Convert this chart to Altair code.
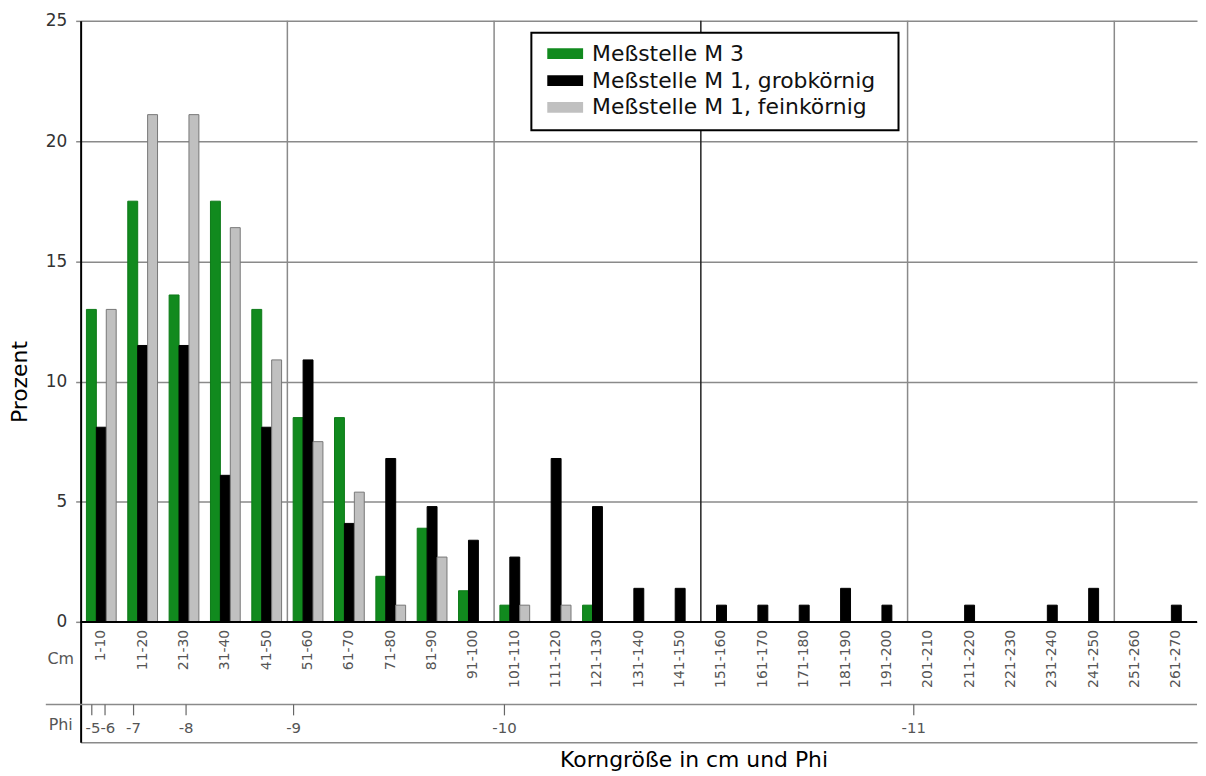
import altair as alt
import pandas as pd

# ---------------- data ----------------
cats = ["1-10", "11-20", "21-30", "31-40", "41-50", "51-60", "61-70", "71-80", "81-90",
        "91-100", "101-110", "111-120", "121-130", "131-140", "141-150", "151-160",
        "161-170", "171-180", "181-190", "191-200", "201-210", "211-220", "221-230",
        "231-240", "241-250", "251-260", "261-270"]

series_names = ["Meßstelle M 3", "Meßstelle M 1, grobkörnig", "Meßstelle M 1, feinkörnig"]
series_colors = ["#118a1e", "#000000", "#c0c0c0"]
series_strokes = ["#0d7a18", "#000000", "#777777"]

m3 = [13.0, 17.5, 13.6, 17.5, 13.0, 8.5, 8.5, 1.9, 3.9, 1.3, 0.7, 0.0, 0.7, 0.0,
      0.0, 0.0, 0.0, 0.0, 0.0, 0.0, 0.0, 0.0, 0.0, 0.0, 0.0, 0.0, 0.0]
m1_grob = [8.1, 11.5, 11.5, 6.1, 8.1, 10.9, 4.1, 6.8, 4.8, 3.4, 2.7, 6.8, 4.8, 1.4,
           1.4, 0.7, 0.7, 0.7, 1.4, 0.7, 0.0, 0.7, 0.0, 0.7, 1.4, 0.0, 0.7]
m1_fein = [13.0, 21.1, 21.1, 16.4, 10.9, 7.5, 5.4, 0.7, 2.7, 0.0, 0.7, 0.7, 0.0, 0.0,
           0.0, 0.0, 0.0, 0.0, 0.0, 0.0, 0.0, 0.0, 0.0, 0.0, 0.0, 0.0, 0.0]

y_ticks = [0, 5, 10, 15, 20, 25]

# vertical grid lines (cm boundaries)
grid_cm = [50, 100, 200, 250]
grid_dark_cm = [150]

# Phi scale below the cm classes (positions in cm)
phi_tick_cm = [2.7, 5.9, 12.8, 25.5, 51.5, 102.5, 201.5]
phi_label_text = ["-5-6", "-7", "-8", "-9", "-10", "-11"]
phi_label_cm = [4.8, 12.8, 25.5, 51.5, 102.5, 201.5]

row_words = ["Cm", "Phi"]

# ---------------- tables ----------------
rows = []
for vals, name in zip([m3, m1_grob, m1_fein], series_names):
    for c, v in zip(cats, vals):
        if v > 0:
            rows.append({"cat": c, "series": name, "value": v})
bars_df = pd.DataFrame(rows)
cats_df = pd.DataFrame({"cat": cats})
one_df = pd.DataFrame({"k": [0]})
grid_df = pd.DataFrame({"cm": grid_cm})
grid_dark_df = pd.DataFrame({"cm": grid_dark_cm})
phi_tick_df = pd.DataFrame({"cm": phi_tick_cm})
phi_label_df = pd.DataFrame({"cm": phi_label_cm, "label": phi_label_text})
cm_word_df = pd.DataFrame({"w": [row_words[0]]})
phi_word_df = pd.DataFrame({"w": [row_words[1]]})

W = 1122
H = 725
FONT = "DejaVu Sans"

band_scale = alt.Scale(domain=cats, paddingInner=0.28, paddingOuter=0.14)
lin_scale = alt.Scale(domain=[0, 270], nice=False, zero=False)
y_scale = alt.Scale(domain=[-5, 25], nice=False)

y_axis = alt.Axis(values=y_ticks, title="Prozent", grid=True, gridColor="#8a8a8a",
                  gridWidth=1.5, domainColor="#000000", domainWidth=2,
                  tickColor="#8a8a8a", tickSize=5, tickWidth=1.5, labelFontSize=17,
                  labelColor="#333333", labelPadding=9, titleFontSize=22,
                  titleFontWeight="normal", titleColor="#000000", titlePadding=14)

# vertical grid rules
grid_rules = alt.Chart(grid_df).mark_rule(color="#8a8a8a", strokeWidth=1.5).encode(
    x=alt.X("cm:Q", scale=lin_scale, axis=None),
    y=alt.datum(0),
    y2=alt.datum(25),
)
grid_dark = alt.Chart(grid_dark_df).mark_rule(color="#222222", strokeWidth=1.5).encode(
    x=alt.X("cm:Q", scale=lin_scale, axis=None),
    y=alt.datum(0),
    y2=alt.datum(25),
)

bars = alt.Chart(bars_df).mark_bar(strokeWidth=1).encode(
    x=alt.X("cat:N", sort=cats, scale=band_scale,
            axis=alt.Axis(title="Korngröße in cm und Phi", labels=False, ticks=False,
                          grid=False, domain=True, domainColor="#8a8a8a", domainWidth=1.5,
                          titleFontSize=22, titleFontWeight="normal",
                          titleColor="#000000", titleX=616, titleAlign="center",
                          titlePadding=7)),
    xOffset=alt.XOffset("series:N", sort=series_names,
                        scale=alt.Scale(domain=series_names, paddingInner=0, paddingOuter=0)),
    y=alt.Y("value:Q", scale=y_scale, axis=y_axis),
    y2=alt.datum(0),
    color=alt.Color("series:N", sort=series_names,
                    scale=alt.Scale(domain=series_names, range=series_colors),
                    legend=alt.Legend(title=None, orient="none", legendX=466, legendY=12,
                                      labelFontSize=22, labelFont=FONT,
                                      labelColor="#111111", labelLimit=500,
                                      symbolType="M-2,-0.6H2V0.6H-2Z", symbolSize=324,
                                      symbolStrokeWidth=0, labelOffset=16,
                                      rowPadding=5, padding=10)),
    stroke=alt.Stroke("series:N", sort=series_names,
                      scale=alt.Scale(domain=series_names, range=series_strokes),
                      legend=None),
)

# zero line
zero_line = alt.Chart(one_df).mark_rule(color="#000000", strokeWidth=2).encode(
    x=alt.value(0), x2=alt.value(W), y=alt.datum(0)
)

# cm labels
cm_labels = alt.Chart(cats_df).mark_text(
    angle=270, align="right", baseline="middle", fontSize=14, color="#555555", font=FONT
).encode(
    x=alt.X("cat:N", sort=cats, scale=band_scale, axis=None),
    y=alt.value(612),
    text="cat:N",
)

# Phi strip
phi_line = alt.Chart(one_df).mark_rule(color="#8a8a8a", strokeWidth=1.5).encode(
    x=alt.value(-35), x2=alt.value(W), y=alt.value(687)
)
phi_ticks = alt.Chart(phi_tick_df).mark_rule(color="#666666", strokeWidth=1.2).encode(
    x=alt.X("cm:Q", scale=lin_scale, axis=None),
    y=alt.value(687),
    y2=alt.value(698),
)
phi_labels = alt.Chart(phi_label_df).mark_text(
    fontSize=15, color="#555555", baseline="middle", align="center", font=FONT
).encode(
    x=alt.X("cm:Q", scale=lin_scale, axis=None),
    y=alt.value(711),
    text="label:N",
)

cm_word = alt.Chart(cm_word_df).mark_text(
    fontSize=16, color="#555555", baseline="middle", align="center", font=FONT
).encode(x=alt.value(-20), y=alt.value(641), text="w:N")
phi_word = alt.Chart(phi_word_df).mark_text(
    fontSize=16, color="#555555", baseline="middle", align="center", font=FONT
).encode(x=alt.value(-20), y=alt.value(708), text="w:N")

# legend frame
legend_box = alt.Chart(one_df).mark_rect(
    fill="#ffffff", stroke="#000000", strokeWidth=2
).encode(x=alt.value(453), x2=alt.value(822), y=alt.value(12), y2=alt.value(110))

chart = alt.layer(
    grid_rules, grid_dark, legend_box, bars, zero_line, cm_labels,
    phi_line, phi_ticks, phi_labels, cm_word, phi_word
).resolve_scale(
    x="independent"
).properties(
    width=W, height=H, padding={"left": 0, "top": 2, "right": 0, "bottom": 0}
).configure(
    font=FONT
).configure_view(
    stroke=None
)

chart.save("out.html", embed_options={"renderer": "svg", "actions": False})
